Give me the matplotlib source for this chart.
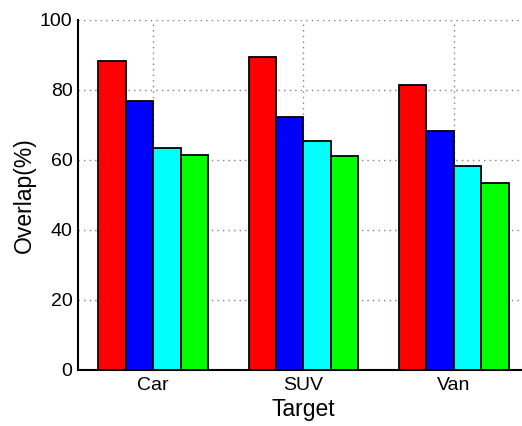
import numpy as np
import matplotlib.pyplot as plt

plt.rcParams['font.family'] = ['Liberation Sans', 'DejaVu Sans']

targets = ['Car', 'SUV', 'Van']
red_vals = [88.4, 89.3, 81.4]
blue_vals = [76.9, 72.2, 68.3]
cyan_vals = [63.3, 65.3, 58.4]
green_vals = [61.4, 61.1, 53.4]

series = [red_vals, blue_vals, cyan_vals, green_vals]
colors = ['#ff0000', '#0000ff', '#00ffff', '#00ff00']

fig = plt.figure(figsize=(5.22, 4.26), dpi=100)
ax = fig.add_axes([0.1494, 0.1315, 0.864, 0.8216])

x = np.arange(1, len(targets) + 1)
w = 0.182
for i, (vals, c) in enumerate(zip(series, colors)):
    ax.bar(x + (i - 1.5) * w, vals, width=w, color=c, edgecolor='black',
           linewidth=1.3, zorder=3)

ax.set_xlim(0.5, 3.5)
ax.set_ylim(0, 100)
ax.set_xticks(x)
ax.set_xticklabels(targets, fontsize=14)
ax.set_yticks(np.arange(0, 101, 20))
ax.tick_params(axis='y', labelsize=14, length=0, pad=4)
ax.tick_params(axis='x', length=0, pad=5)
ax.grid(True, color='#808080', linestyle=(0, (1, 3)), linewidth=1, zorder=0)
ax.set_axisbelow(True)

ax.spines['top'].set_visible(False)
ax.spines['right'].set_visible(False)
ax.spines['left'].set_linewidth(1.5)
ax.spines['bottom'].set_linewidth(1.5)

ax.set_xlabel('Target', fontsize=16.5, labelpad=3)
ax.set_ylabel('Overlap(%)', fontsize=16.5, labelpad=3)

fig.savefig('out.png', dpi=100)
